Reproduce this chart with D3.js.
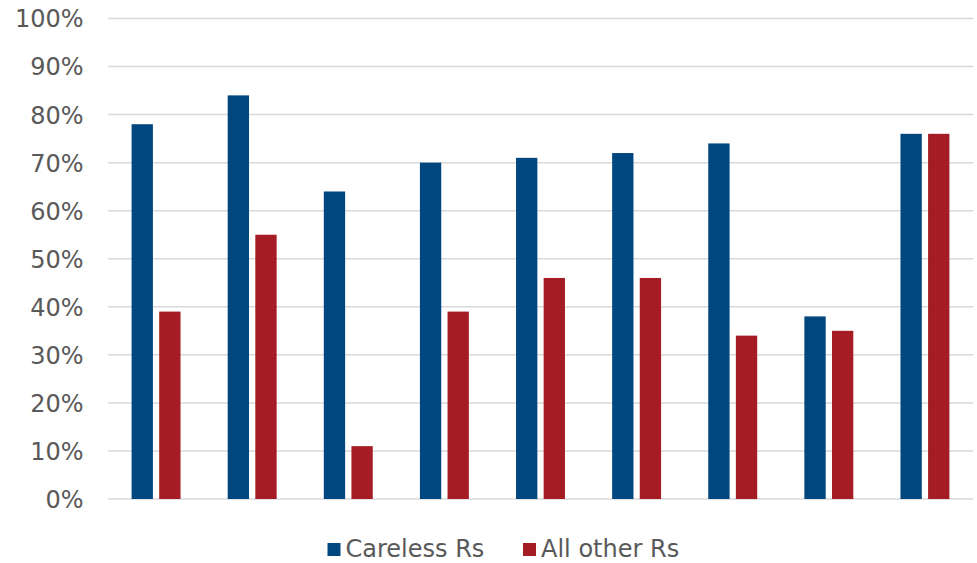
<!DOCTYPE html>
<html><head><meta charset="utf-8">
<script src="https://cdn.jsdelivr.net/npm/d3@7"></script>
<style>body{margin:0;background:#fff}svg{display:block}text{font-family:"DejaVu Sans",Verdana,sans-serif;fill:#595959}</style>
</head><body><div id="c"></div>
<script>
const categories = ["1","2","3","4","5","6","7","8","9"];
const seriesNames = ["Careless Rs","All other Rs"];
const careless = [78,84,64,70,71,72,74,38,76];
const allOther = [39,55,11,39,46,46,34,35,76];
const yTicks = [0,10,20,30,40,50,60,70,80,90,100];
const colors = ["#00467F","#A51C24"];

const W=977,H=563;
const m={left:108,right:4,top:18.5,bottom:64};
const svg=d3.select("#c").append("svg").attr("width",W).attr("height",H);
const x=d3.scaleBand().domain(categories).range([m.left,W-m.right]).paddingInner(0).paddingOuter(0);
const y=d3.scaleLinear().domain([0,100]).range([H-m.bottom,m.top]);
const xs=d3.scaleBand().domain(seriesNames).range([0,x.bandwidth()]).paddingInner(0.228).paddingOuter(0.854);

const g=svg.append("g");
g.selectAll("line.grid").data(yTicks).join("line")
 .attr("x1",m.left).attr("x2",W-m.right)
 .attr("y1",d=>y(d)).attr("y2",d=>y(d))
 .attr("stroke","#d9d9d9").attr("stroke-width",1.5);

const yAxis=d3.axisLeft(y).tickValues(yTicks).tickFormat(d=>d+"%").tickSize(0).tickPadding(0);
const ya=svg.append("g").attr("transform","translate(83.5,0)").call(yAxis);
ya.select(".domain").remove();
ya.selectAll("text").style("font-size","24px").style("fill","#595959").attr("dy","0.35em").style("font-family","DejaVu Sans");

const data=[careless,allOther];
seriesNames.forEach((s,si)=>{
  svg.append("g").selectAll("rect").data(categories).join("rect")
   .attr("x",c=>x(c)+xs(s)).attr("width",xs.bandwidth())
   .attr("y",(c,i)=>y(data[si][i])).attr("height",(c,i)=>y(0)-y(data[si][i]))
   .attr("fill",colors[si]);
});

const leg=svg.append("g");
const legX=[327.5,523];
seriesNames.forEach((s,i)=>{
  leg.append("rect").attr("x",legX[i]).attr("y",543).attr("width",13).attr("height",13).attr("fill",colors[i]);
  leg.append("text").attr("x",legX[i]+18).attr("y",557).style("font-size","24px").text(s);
});
</script></body></html>
